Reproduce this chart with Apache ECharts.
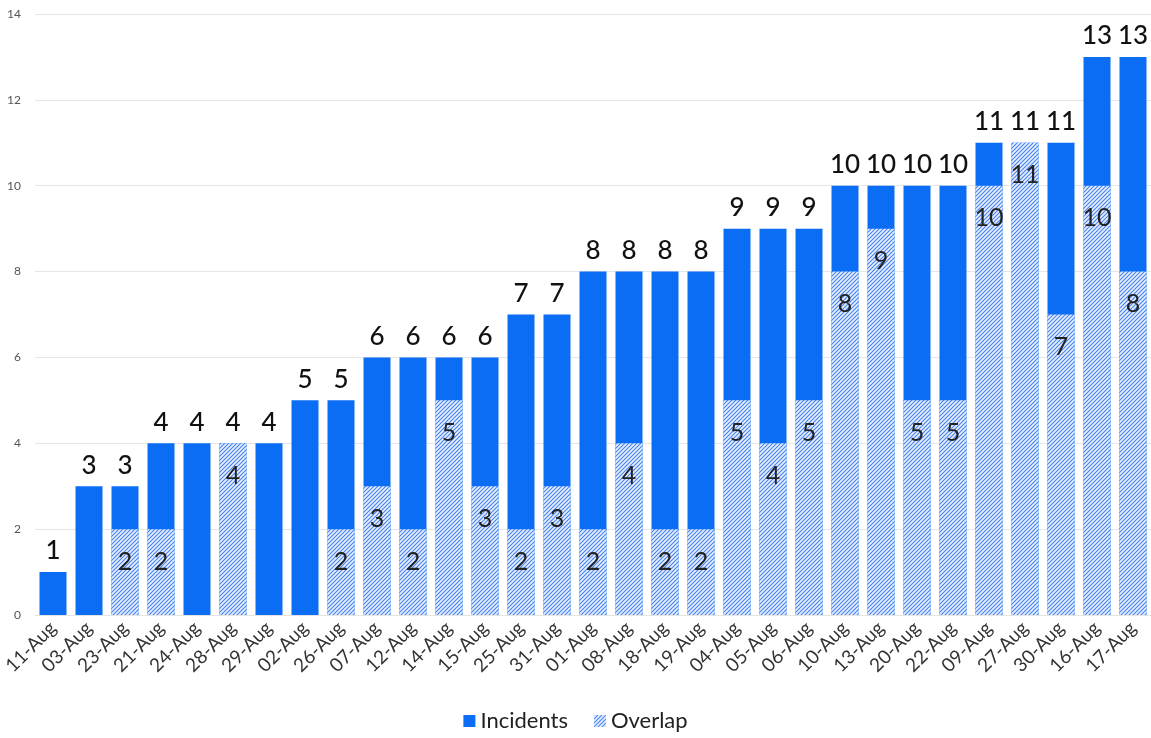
<!DOCTYPE html>
<html>
<head>
<meta charset="utf-8">
<script src="https://cdn.jsdelivr.net/npm/echarts@6/dist/echarts.min.js"></script>
<style>
  html, body { margin: 0; padding: 0; background: #ffffff; }
  #chart { width: 1151px; height: 738px; }
</style>
</head>
<body>
<div id="chart"></div>
<script>
// Days, sorted by incident count
const days = ['11-Aug','03-Aug','23-Aug','21-Aug','24-Aug','28-Aug','29-Aug','02-Aug','26-Aug','07-Aug',
  '12-Aug','14-Aug','15-Aug','25-Aug','31-Aug','01-Aug','08-Aug','18-Aug','19-Aug','04-Aug',
  '05-Aug','06-Aug','10-Aug','13-Aug','20-Aug','22-Aug','09-Aug','27-Aug','30-Aug','16-Aug','17-Aug'];
const incidents = [1,3,3,4,4,4,4,5,5,6,6,6,6,7,7,8,8,8,8,9,9,9,10,10,10,10,11,11,11,13,13];
const overlap   = [0,0,2,2,0,4,0,0,2,3,2,5,3,2,3,2,4,2,2,5,4,5,8,9,5,5,10,11,7,10,8];
const yTicks = { min: 0, max: 14, interval: 2 };

const BLUE = '#0b6cf4';
const FONT = 'Lato, "Noto Sans", sans-serif';

// Diagonal hatch fill for the overlap bars
function hatch() {
  const p = 4;
  const c = document.createElement('canvas');
  c.width = p; c.height = p;
  const g = c.getContext('2d');
  g.fillStyle = '#e8f0fe';
  g.fillRect(0, 0, p, p);
  g.strokeStyle = '#4681f3';
  g.lineWidth = 1.1;
  g.beginPath();
  g.moveTo(-1, p + 1); g.lineTo(p + 1, -1);
  g.moveTo(-1, 1); g.lineTo(1, -1);
  g.moveTo(p - 1, p + 1); g.lineTo(p + 1, p - 1);
  g.stroke();
  return { image: c, repeat: 'repeat' };
}
const hatchFill = hatch();

const chart = echarts.init(document.getElementById('chart'));
chart.setOption({
  animation: false,
  textStyle: { fontFamily: FONT },
  grid: { left: 35, right: 0, top: 14, bottom: 123 },
  legend: {
    bottom: 1,
    left: 'center',
    itemWidth: 12,
    itemHeight: 12,
    itemGap: 26,
    icon: 'rect',
    textStyle: { fontSize: 22, color: '#222', fontFamily: FONT },
    data: [
      { name: 'Incidents', itemStyle: { color: BLUE } },
      { name: 'Overlap', itemStyle: { color: hatchFill } }
    ]
  },
  xAxis: {
    type: 'category',
    data: days,
    axisTick: { show: false },
    axisLine: { show: true, lineStyle: { color: '#e3e3e3' } },
    axisLabel: {
      rotate: 45, interval: 0, fontSize: 19, color: '#333', margin: 10, fontFamily: FONT
    }
  },
  yAxis: {
    type: 'value',
    min: yTicks.min, max: yTicks.max, interval: yTicks.interval,
    axisLabel: { fontSize: 12, color: '#555', margin: 14, fontFamily: FONT },
    splitLine: { lineStyle: { color: '#e6e6e6', width: 1 } },
    axisLine: { show: false },
    axisTick: { show: false }
  },
  series: [
    {
      name: 'Incidents',
      type: 'bar',
      data: incidents,
      barWidth: '75%',
      barGap: '-100%',
      itemStyle: { color: BLUE },
      label: {
        show: true, position: 'top', distance: 8,
        fontSize: 26, fontWeight: 500, color: '#111', fontFamily: FONT
      }
    },
    {
      name: 'Overlap',
      type: 'bar',
      data: overlap,
      barWidth: '75%',
      barGap: '-100%',
      itemStyle: { color: hatchFill },
      label: {
        show: true, position: 'insideTop', distance: 20,
        fontSize: 25, color: '#222', fontFamily: FONT,
        formatter: p => (p.value > 0 ? String(p.value) : '')
      }
    }
  ]
});
</script>
</body>
</html>
